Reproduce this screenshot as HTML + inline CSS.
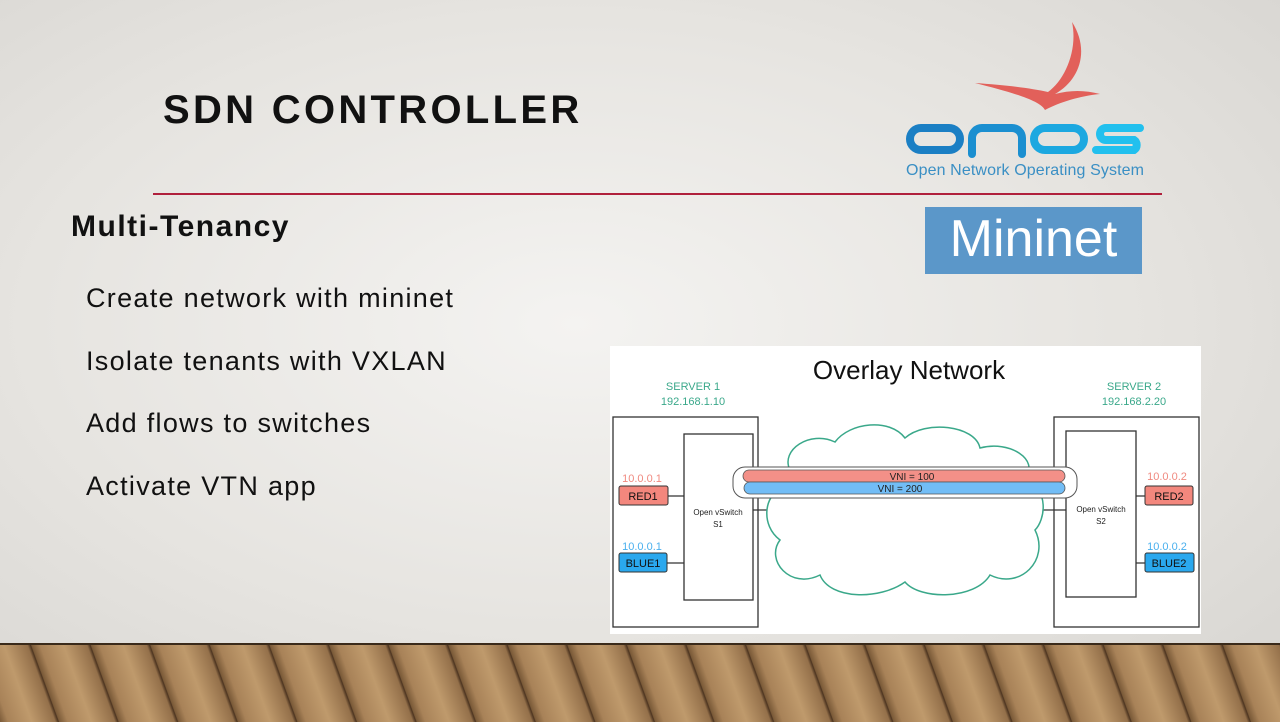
<!DOCTYPE html>
<html><head><meta charset="utf-8"><style>
html,body{margin:0;padding:0}
body{width:1280px;height:720px;position:relative;overflow:hidden;font-family:"Liberation Sans",sans-serif;
background:radial-gradient(ellipse at 45% 45%,#f4f3f1 0%,#e6e4e0 55%,#d6d4d0 100%);}
.abs{position:absolute}
.floor{left:0;top:643px;width:1280px;height:77px;
background:repeating-linear-gradient(70deg,#7a5a38 0px,#a88258 8px,#bf9a6c 30px,#94704a 52px,#4c3420 55px,#7a5a38 56px);
border-top:2px solid #3a2a1a}
</style></head><body>
<div class="abs" style="left:163px;top:88px;font-size:40px;font-weight:bold;color:#111;letter-spacing:3.3px">SDN CONTROLLER</div>
<div class="abs" style="left:153px;top:193px;width:1009px;height:2px;background:#b0203c"></div>
<div class="abs" style="left:71px;top:210px;font-size:30px;font-weight:bold;color:#111;letter-spacing:1.5px">Multi-Tenancy</div>
<div class="abs" style="left:86px;top:267px;font-size:27px;color:#111;line-height:62.5px;letter-spacing:1.3px">Create network with mininet<br>Isolate tenants with VXLAN<br>Add flows to switches<br>Activate VTN app</div>

<svg class="abs" style="left:890px;top:10px" width="280" height="180" viewBox="0 0 280 180">
<path d="M182 12 C200 40 190 70 165 84 C180 80 195 80 210 84 C190 86 170 92 155 100 C150 90 120 82 85 73 C115 75 140 78 158 82 C175 70 188 40 182 12Z" fill="#e2605a"/>
<g fill="none" stroke-width="8" stroke-linecap="round">
<rect x="20" y="118" width="50" height="22" rx="11" stroke="#1b7fc4"/>
<path d="M82 144 V128 A10 10 0 0 1 92 118 H122 A10 10 0 0 1 132 128 V144" stroke="#1b8fd0"/>
<rect x="144" y="118" width="50" height="22" rx="11" stroke="#1ca8e0"/>
<path d="M250 118 H216 A6 6 0 0 0 216 130 H244 A6 6 0 0 1 244 140 H206" stroke="#22c0ee"/>
</g>
<text x="16" y="165" font-family="Liberation Sans,sans-serif" font-size="16" textLength="238" fill="#3a8fc4">Open Network Operating System</text>
</svg>
<div class="abs" style="left:925px;top:207px;width:217px;height:67px;background:#5b97c9;color:#fff;font-size:52px;line-height:64px;text-align:center">Mininet</div>

<svg class="abs" style="left:610px;top:346px" width="591" height="288" viewBox="610 346 591 288" font-family="Liberation Sans,sans-serif">
<rect x="610" y="346" width="591" height="288" fill="#fff"/>
<text x="909" y="379" font-size="26" text-anchor="middle" fill="#111">Overlay Network</text>
<g font-size="11" fill="#3aa88a" text-anchor="middle">
<text x="693" y="390">SERVER 1</text><text x="693" y="405">192.168.1.10</text>
<text x="1134" y="390">SERVER 2</text><text x="1134" y="405">192.168.2.20</text></g>
<g fill="none" stroke="#333" stroke-width="1.3">
<rect x="613" y="417" width="145" height="210"/><rect x="684" y="434" width="69" height="166"/>
<rect x="1054" y="417" width="145" height="210"/><rect x="1066" y="431" width="70" height="166"/>
<path d="M668 496H684M667 563H684M1136 496H1145M1136 563H1145M753 510H775M1040 510H1066"/></g>
<path d="M790 470 C780 450 810 430 835 442 C850 422 890 418 905 438 C925 420 975 425 980 448 C1010 440 1040 460 1025 478 C1050 490 1045 520 1035 530 C1050 560 1020 590 990 575 C975 600 920 600 905 582 C880 600 830 600 820 575 C790 590 765 560 780 540 C760 525 765 495 780 490 C772 480 780 472 790 470Z" fill="#fff" stroke="#3aa88a" stroke-width="1.5"/>
<rect x="733" y="467" width="344" height="31" rx="12" fill="#fff" stroke="#555"/>
<rect x="743" y="470" width="322" height="12" rx="6" fill="#f39088" stroke="#555" stroke-width=".8"/>
<rect x="744" y="482" width="321" height="12" rx="6" fill="#72bdf6" stroke="#555" stroke-width=".8"/>
<text x="912" y="480" font-size="10" text-anchor="middle" fill="#222">VNI = 100</text>
<text x="900" y="492" font-size="10" text-anchor="middle" fill="#222">VNI = 200</text>
<g font-size="8" fill="#222" text-anchor="middle"><text x="718" y="515">Open vSwitch</text><text x="718" y="527">S1</text>
<text x="1101" y="512">Open vSwitch</text><text x="1101" y="524">S2</text></g>
<g stroke="#333" stroke-width="1"><rect x="619" y="486" width="49" height="19" rx="2" fill="#f3877d"/>
<rect x="619" y="553" width="48" height="19" rx="2" fill="#2aa8ee"/>
<rect x="1145" y="486" width="48" height="19" rx="2" fill="#f3877d"/>
<rect x="1145" y="553" width="49" height="19" rx="2" fill="#2aa8ee"/></g>
<g font-size="11" text-anchor="middle" fill="#111"><text x="643" y="500">RED1</text><text x="643" y="567">BLUE1</text>
<text x="1169" y="500">RED2</text><text x="1169" y="567">BLUE2</text></g>
<g font-size="11" text-anchor="middle"><text x="642" y="482" fill="#f08a80">10.0.0.1</text><text x="642" y="550" fill="#4ab0ee">10.0.0.1</text>
<text x="1167" y="480" fill="#f08a80">10.0.0.2</text><text x="1167" y="550" fill="#4ab0ee">10.0.0.2</text></g>
</svg>
<div class="abs floor"></div>
</body></html>
